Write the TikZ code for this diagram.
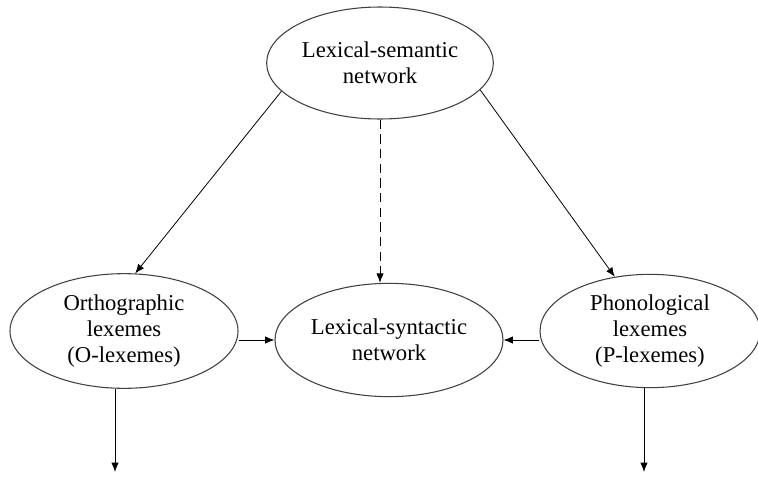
\documentclass[tikz,border=0pt]{standalone}
\usepackage{fontspec}
\setmainfont{Liberation Serif}
\usetikzlibrary{arrows.meta}
\usetikzlibrary{shapes.geometric}

\tikzset{
  lex/.style = {ellipse, draw = black!75, line width = 0.8pt, inner sep = 0pt,
                align = center, font = \fontsize{17}{19.5}\selectfont},
  arr/.style = {-{Latex[length = 7pt, width = 5.5pt]}, line width = 0.6pt}
}

\begin{document}
\begin{tikzpicture}[x = 0.75pt, y = -0.75pt]
            \useasboundingbox (0,0) rectangle (758,479);
            \node[lex, minimum width = 170pt, minimum height = 84pt] (Sem) at (380,63) {Lexical-semantic\\network};
            \node[lex, minimum width = 171pt, minimum height = 86pt] (Orth) at (124,331) {Orthographic\\lexemes\\(O-lexemes)};
            \node[lex, minimum width = 171pt, minimum height = 85pt] (Syn) at (389,340) {Lexical-syntactic\\network};
            \node[lex, minimum width = 165pt, minimum height = 85pt] (Phon) at (650,331) {Phonological\\lexemes\\(P-lexemes)};
            \coordinate (Oout) at (115,472);
            \coordinate (Pout) at (644,472);
            \draw[arr] (Sem.196) to (Orth.79);
            \draw[arr] (Sem.345) to (Phon.123);
            \draw[arr, dash pattern = on 7pt off 4pt] (Sem.south) to (Sem.south |- Syn.north);
            \draw[arr] (Orth.east |- Syn.west) to (Syn.west);
            \draw[arr] (Phon.west |- Syn.east) to (Syn.east);
            \draw[arr] (Orth.south -| Oout) to (Oout);
            \draw[arr] (Phon.south -| Pout) to (Pout);
        \end{tikzpicture}
\end{document}
